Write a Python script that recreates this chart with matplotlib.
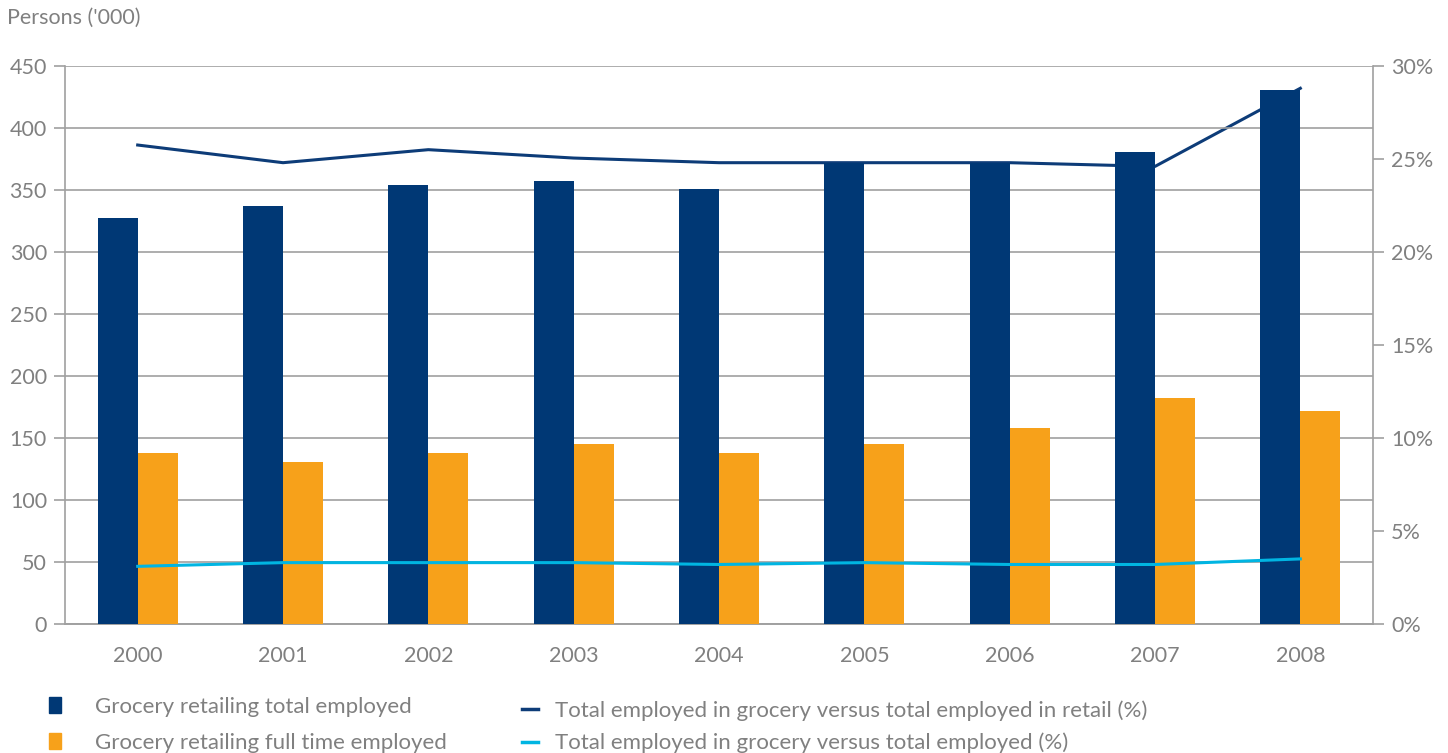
import numpy as np
import matplotlib
matplotlib.use("Agg")
import matplotlib.pyplot as plt
from matplotlib.patches import Patch
from matplotlib.lines import Line2D

plt.rcParams['font.family'] = ['Lato', 'DejaVu Sans']

years = ['2000', '2001', '2002', '2003', '2004', '2005', '2006', '2007', '2008']
total_employed = [327, 337, 354, 357, 351, 372, 372, 381, 431]
fulltime_employed = [138, 131, 138, 145, 138, 145, 158, 182, 172]
share_of_retail = [25.75, 24.8, 25.5, 25.05, 24.8, 24.8, 24.8, 24.6, 28.8]
share_of_total = [3.1, 3.3, 3.3, 3.3, 3.2, 3.3, 3.2, 3.2, 3.5]

navy = '#003875'
orange = '#F7A11A'
cyan = '#00B5E2'
line_navy = '#0D3C78'
grey = '#808080'
grid_c = '#a0a0a0'

fig = plt.figure(figsize=(14.48, 7.53), dpi=100)
ax = fig.add_axes([0.0449, 0.1713, 0.9033, 0.7411])
ax2 = ax.twinx()
ax.set_zorder(ax2.get_zorder() + 1)
ax.patch.set_visible(False)

x = np.arange(len(years))
w = 0.275
ax.bar(x - w / 2, total_employed, w, color=navy, zorder=3)
ax.bar(x + w / 2, fulltime_employed, w, color=orange, zorder=3)

ax2.plot(x, share_of_retail, color=line_navy, lw=2.2)
# cyan line sits above the bars, so draw it in ax using ax2's coordinates
ax.plot(x, share_of_total, color=cyan, lw=2.2, zorder=4, transform=ax2.transData)

ax.set_xlim(-0.5, 8.5)
ax.set_ylim(0, 450)
ax.set_yticks(np.arange(0, 451, 50))
ax2.set_ylim(0, 30)
ax2.set_yticks(np.arange(0, 31, 5))
ax2.set_yticklabels([f'{v}%' for v in range(0, 31, 5)])
ax.set_xticks(x)
ax.set_xticklabels(years)

ax.yaxis.grid(True, color=grid_c, lw=1.2, zorder=0)
ax.set_axisbelow(True)

for a in (ax, ax2):
    for s in a.spines.values():
        s.set_color(grid_c)
        s.set_linewidth(1.2)
    a.spines['top'].set_visible(False)
ax.spines['right'].set_visible(False)
ax2.spines['left'].set_visible(False)

ax.tick_params(axis='y', length=8, width=1.2, color=grid_c, labelcolor=grey,
               labelsize=15.5, pad=5)
ax.tick_params(axis='x', length=0, labelcolor=grey, labelsize=15.5, pad=16)
ax2.tick_params(axis='y', length=8, width=1.2, color=grid_c, labelcolor=grey,
                labelsize=15.5, pad=5)

fig.text(0.005, 0.976, "Persons ('000)", color=grey, fontsize=15.5, va='center', ha='left')

bar_handles = [Patch(color=navy), Patch(color=orange)]
bar_labels = ['Grocery retailing total employed', 'Grocery retailing full time employed']
leg1 = fig.legend(bar_handles, bar_labels, loc='lower left', bbox_to_anchor=(0.020, -0.026),
                  frameon=False, fontsize=16, labelcolor=grey, handlelength=0.55,
                  handleheight=0.75, handletextpad=1.5, labelspacing=0.72)

line_handles = [Line2D([], [], color=line_navy, lw=2.5), Line2D([], [], color=cyan, lw=2.5)]
line_labels = ['Total employed in grocery versus total employed in retail (%)',
               'Total employed in grocery versus total employed (%)']
leg2 = fig.legend(line_handles, line_labels, loc='lower left', bbox_to_anchor=(0.347, -0.027),
                  frameon=False, fontsize=16, labelcolor=grey, handlelength=0.7,
                  handletextpad=0.75, labelspacing=0.55)

fig.savefig('out.png', dpi=100)
